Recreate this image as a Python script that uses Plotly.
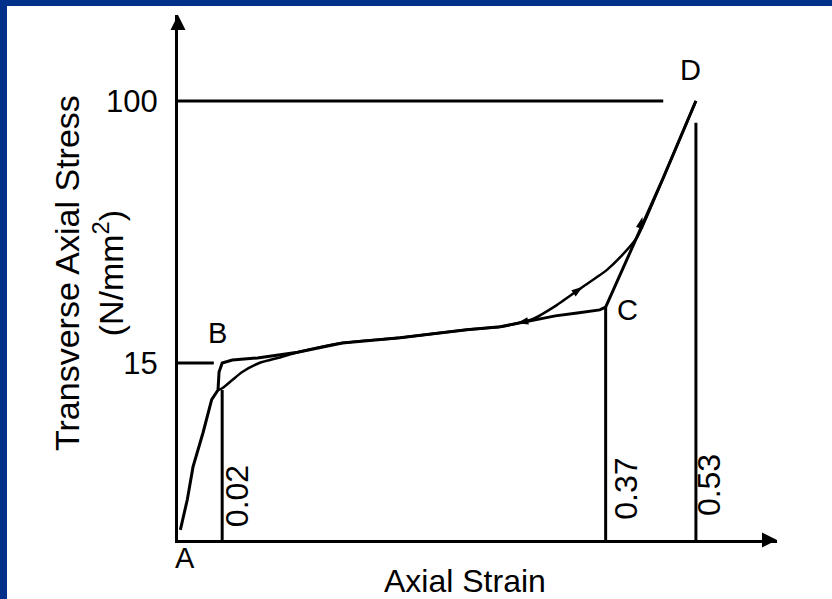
import numpy as np
import plotly.graph_objects as go

# Schematic stress-strain diagram: both axes use a compressed (log-with-offset) scale
STRAIN_OFFSET = 0.14
STRESS_OFFSET = 8.2

# Loading path A -> B -> C -> D
loading_strain = [0.001, 0.004, 0.0065, 0.011, 0.015, 0.018, 0.0185, 0.02, 0.025, 0.038,
                  0.061, 0.090, 0.134, 0.195, 0.231, 0.270, 0.298, 0.328, 0.361, 0.37,
                  0.421, 0.467, 0.53]
loading_stress = [0.5, 2.2, 4.4, 7.2, 10.5, 11.6, 13.8, 15.0, 15.4, 15.7,
                  16.5, 17.9, 18.7, 20.0, 20.5, 21.7, 22.4, 22.9, 23.5, 24.0,
                  40.4, 60.6, 100.0]

# Reloading path that branches off below B and rejoins near C-D
reload_strain = [0.018, 0.020, 0.025, 0.030, 0.039, 0.051, 0.061, 0.090, 0.134, 0.195,
                 0.231, 0.270, 0.300, 0.336, 0.372, 0.393, 0.421, 0.467, 0.53]
reload_stress = [11.6, 11.8, 12.8, 13.8, 15.0, 15.8, 16.5, 17.9, 18.7, 20.0,
                 20.5, 21.9, 24.4, 28.1, 31.9, 35.0, 40.4, 60.6, 100.0]

# Key points and their letters
point_names = ["A", "B", "C", "D"]
point_strain = [0.0, 0.02, 0.37, 0.53]
point_stress = [0.0, 15.0, 24.0, 100.0]

# Horizontal guide lines (stress level, strain where the line stops)
guide_stress = [15, 100]
guide_strain_end = [0.016, 0.467]

# Vertical strain markers (strain, stress where the line stops)
strain_marks = [0.02, 0.37, 0.53]
strain_mark_top = [11.6, 24.0, 87.0]
strain_mark_text = ["0.02", "0.37", "0.53"]

# Arrows along the curves: (tail strain, tail stress, head strain, head stress)
flow_arrows = [
    (0.300, 24.4, 0.336, 28.1),
    (0.270, 21.7, 0.250, 21.1),
    (0.421, 40.4, 0.430, 46.5),
]

FONT = "Liberation Sans, Arial, sans-serif"


def xs(v):
    return np.asarray(v, dtype=float) + STRAIN_OFFSET


def ys(v):
    return np.asarray(v, dtype=float) + STRESS_OFFSET


x_lo = np.log10(STRAIN_OFFSET)
x_hi = x_lo + 599 / 761.7
y_lo = np.log10(STRESS_OFFSET)
y_hi = y_lo + 525 / 391.9

fig = go.Figure()

line_style = dict(color="black", width=3)

fig.add_trace(go.Scatter(x=xs(loading_strain), y=ys(loading_stress), mode="lines",
                         line=line_style, hoverinfo="skip"))
fig.add_trace(go.Scatter(x=xs(reload_strain), y=ys(reload_stress), mode="lines",
                         line=dict(color="black", width=2.5, shape="spline", smoothing=0.6),
                         hoverinfo="skip"))

for s, e in zip(guide_stress, guide_strain_end):
    fig.add_trace(go.Scatter(x=xs([0, e]), y=ys([s, s]), mode="lines",
                             line=line_style, hoverinfo="skip"))

for m, top in zip(strain_marks, strain_mark_top):
    fig.add_trace(go.Scatter(x=xs([m, m]), y=ys([0, top]), mode="lines",
                             line=line_style, hoverinfo="skip"))

# Direction arrows on the curves, oriented from tail to head
for ts, tst, hs, hst in flow_arrows:
    fig.add_trace(go.Scatter(x=xs([ts, hs]), y=ys([tst, hst]), mode="markers",
                             marker=dict(symbol="arrow", size=[1, 12], color="black",
                                         opacity=[0, 1], angleref="previous",
                                         line=dict(width=0)),
                             hoverinfo="skip"))

annotations = []

# Arrowheads at the ends of both axes
annotations.append(dict(x=0, y=1, xref="x domain", yref="y domain", ax=0, ay=16,
                        text="", showarrow=True, arrowhead=2, arrowsize=1, arrowwidth=3,
                        arrowcolor="black"))
annotations.append(dict(x=1, y=0, xref="x domain", yref="y domain", ax=-16, ay=0,
                        text="", showarrow=True, arrowhead=2, arrowsize=1, arrowwidth=3,
                        arrowcolor="black"))

# Point letters
letter_shift = {"A": (7, -18), "B": (-5, 30), "C": (22, -3), "D": (-5, 31)}
for name, s, st in zip(point_names, point_strain, point_stress):
    dx, dy = letter_shift[name]
    annotations.append(dict(x=np.log10(s + STRAIN_OFFSET), y=np.log10(st + STRESS_OFFSET),
                            xref="x", yref="y", text=name, showarrow=False,
                            xanchor="center", yanchor="middle",
                            xshift=dx, yshift=dy, font=dict(family=FONT, size=29, color="black")))

# Rotated strain values beside the vertical markers
mark_pos = [(15, 0.172), (20, 0.1836), (13, 0.190)]
for m, txt, (dx, yp) in zip(strain_marks, strain_mark_text, mark_pos):
    annotations.append(dict(x=np.log10(m + STRAIN_OFFSET), y=yp, xref="x", yref="paper",
                            text=txt, showarrow=False, textangle=-90, xshift=dx,
                            xanchor="center", yanchor="middle",
                            font=dict(family=FONT, size=32, color="black")))

# Axis titles
annotations.append(dict(x=465 / 832, y=1 - 581 / 599, xref="paper", yref="paper",
                        text="Axial Strain", xanchor="center", yanchor="middle",
                        showarrow=False, font=dict(family=FONT, size=32, color="black")))
annotations.append(dict(x=89 / 832, y=1 - 273 / 599, xref="paper", yref="paper",
                        text="Transverse Axial Stress<br>(N/mm<sup>2</sup>)", textangle=-90,
                        xanchor="center", yanchor="middle",
                        showarrow=False, font=dict(family=FONT, size=34, color="black")))

fig.update_layout(
    width=832, height=599,
    margin=dict(l=0, r=0, t=0, b=0),
    paper_bgcolor="white", plot_bgcolor="white",
    showlegend=False,
    xaxis=dict(type="log", range=[x_lo, x_hi], domain=[178 / 832, 777 / 832],
               showline=True, linewidth=3, linecolor="black", showgrid=False, zeroline=False,
               showticklabels=False, ticks=""),
    yaxis=dict(type="log", range=[y_lo, y_hi], domain=[59 / 599, 584 / 599],
               showline=True, linewidth=3, linecolor="black", showgrid=False, zeroline=False,
               tickvals=list(ys(guide_stress)), ticktext=[str(v) for v in guide_stress],
               ticks="", ticklabelstandoff=11,
               tickfont=dict(family=FONT, size=31, color="black")),
    annotations=annotations,
    shapes=[
        dict(type="rect", xref="paper", yref="paper", x0=0, x1=7 / 832, y0=0, y1=1,
             fillcolor="#00308A", line=dict(width=0), layer="above"),
        dict(type="rect", xref="paper", yref="paper", x0=0, x1=1, y0=1 - 6 / 599, y1=1,
             fillcolor="#00308A", line=dict(width=0), layer="above"),
    ],
)

fig.write_html("out.html")
